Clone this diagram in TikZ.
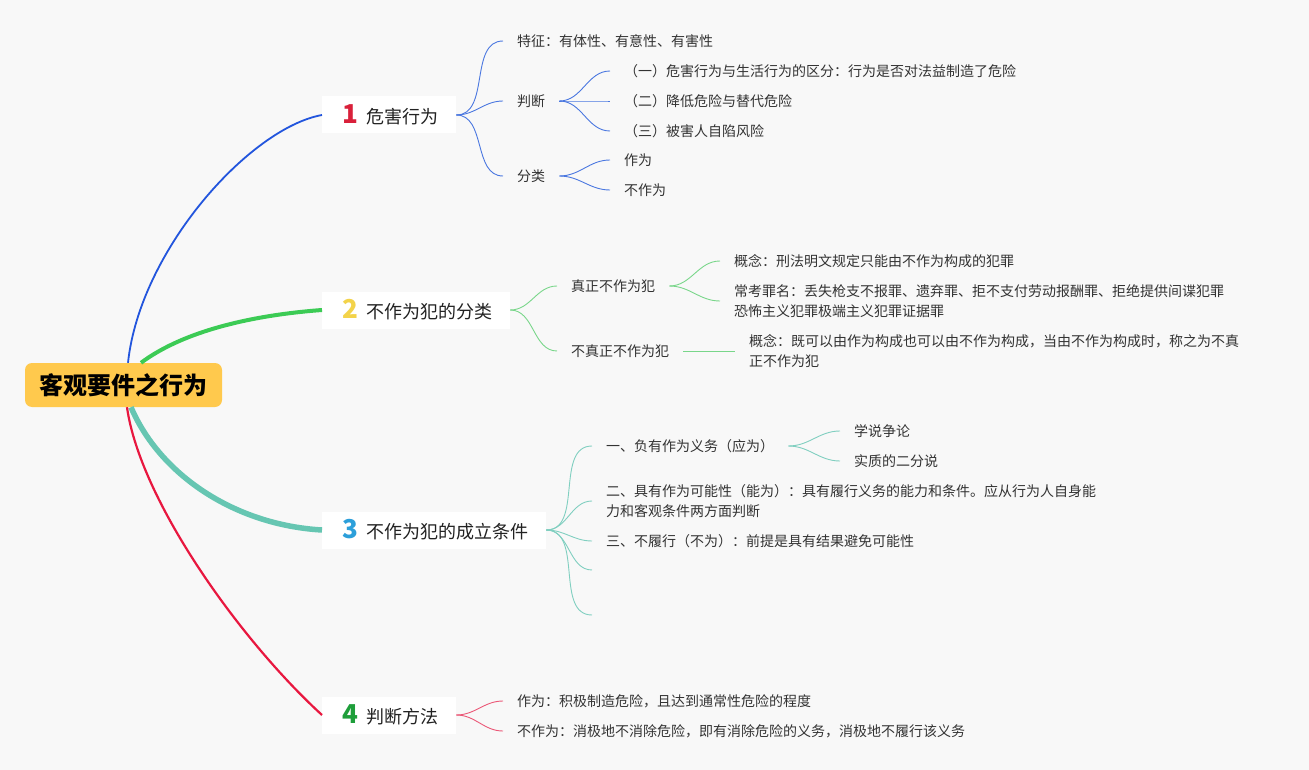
\documentclass[tikz,border=0pt]{standalone}
\usepackage{fontspec}
\setmainfont{Noto Sans CJK SC}
\newcommand\mmnumfont{\fontsize{26}{26}\selectfont\bfseries}
\definecolor{bgc}{HTML}{F8F8F8}
\definecolor{rooty}{HTML}{FFC94D}
\definecolor{cblue}{HTML}{2255DD}
\definecolor{cbluel}{HTML}{4A77E0}
\definecolor{cgreen}{HTML}{3CCB55}
\definecolor{cgreenl}{HTML}{79D68A}
\definecolor{cteal}{HTML}{66C6B2}
\definecolor{ctealll}{HTML}{80CFC0}
\definecolor{cred}{HTML}{E8173F}
\definecolor{credl}{HTML}{EB5877}
\definecolor{numa}{HTML}{D9203A}
\definecolor{numb}{HTML}{F3D34A}
\definecolor{numc}{HTML}{2C9FDA}
\definecolor{numd}{HTML}{1E9E3A}
\definecolor{tdark}{HTML}{222222}
\definecolor{tgray}{HTML}{333333}
\begin{document}
\begin{tikzpicture}[x=1pt,y=-1pt,
  rootbox/.style={fill=rooty, rounded corners=7pt, minimum width=197pt, minimum height=44pt,
    inner sep=0pt, font=\fontsize{24}{28}\selectfont\bfseries, text=black},
  branchbox/.style={fill=white, anchor=west, minimum height=37pt, inner xsep=18pt, inner ysep=0pt,
    font=\fontsize{18}{22}\selectfont, text=tdark},
  leaf/.style={anchor=west, inner xsep=14pt, inner ysep=2pt, align=left,
    font=\fontsize{14}{20}\selectfont, text=tgray},
  lka/.style={draw=cbluel, line width=0.9pt},
  lkb/.style={draw=cgreenl, line width=0.9pt},
  lkc/.style={draw=ctealll, line width=0.9pt},
  lkd/.style={draw=credl, line width=0.9pt},
  fan/.style={out=0, in=180}
]
\useasboundingbox (0,0) rectangle (1309,770);
\fill[bgc] (0,0) rectangle (1309,770);

% root and branches
\node[rootbox] (root) at (123.5,385) {客观要件之行为};
\node[branchbox] (b1) at (322,115) {\hspace*{2pt}{\mmnumfont\color{numa}1}\hspace{8pt}危害行为};
\node[branchbox] (b2) at (322,310) {\hspace*{2pt}{\mmnumfont\color{numb}2}\hspace{8pt}不作为犯的分类};
\node[branchbox] (b3) at (322,530) {\hspace*{2pt}{\mmnumfont\color{numc}3}\hspace{8pt}不作为犯的成立条件};
\node[branchbox] (b4) at (322,715) {\hspace*{2pt}{\mmnumfont\color{numd}4}\hspace{8pt}判断方法};

% main connectors
\draw[cblue, line width=1.8pt] ([xshift=4.5pt]root.north) .. controls (140,250) and (250,128) .. (b1.west);
\draw[cgreen, line width=4pt] ([xshift=17.5pt]root.north) .. controls (185,330) and (255,315) .. (b2.west);
\draw[cteal, line width=5.5pt] ([xshift=7.5pt]root.south) .. controls (160,475) and (235,525) .. (b3.west);
\draw[cred, line width=2.2pt] ([xshift=3.5pt]root.south) .. controls (140,500) and (240,640) .. (b4.west);

% branch 1
\node[leaf] (c11) at (503,41) {特征：有体性、有意性、有害性};
\node[leaf] (c12) at (503,101) {判断};
\node[leaf] (c13) at (503,176) {分类};
\node[leaf] (c121) at (610,71) {（一）危害行为与生活行为的区分：行为是否对法益制造了危险};
\node[leaf] (c122) at (610,101) {（二）降低危险与替代危险};
\node[leaf] (c123) at (610,131) {（三）被害人自陷风险};
\node[leaf] (c131) at (610,160) {作为};
\node[leaf] (c132) at (610,190) {不作为};
\draw[lka] (b1.east) to[fan] (c11.west);
\draw[lka] (b1.east) to[fan] (c12.west);
\draw[lka] (b1.east) to[fan] (c13.west);
\draw[lka] (c12.east) to[fan] (c121.west);
\draw[lka] (c12.east) to[fan] (c122.west);
\draw[lka] (c12.east) to[fan] (c123.west);
\draw[lka] (c13.east) to[fan] (c131.west);
\draw[lka] (c13.east) to[fan] (c132.west);

% branch 2
\node[leaf] (c21) at (557,286) {真正不作为犯};
\node[leaf] (c22) at (557,351) {不真正不作为犯};
\node[leaf] (c211) at (720,261) {概念：刑法明文规定只能由不作为构成的犯罪};
\node[leaf] (c212) at (720,301) {常考罪名：丢失枪支不报罪、遗弃罪、拒不支付劳动报酬罪、拒绝提供间谍犯罪\\恐怖主义犯罪极端主义犯罪证据罪};
\node[leaf] (c221) at (735,351) {概念：既可以由作为构成也可以由不作为构成，当由不作为构成时，称之为不真\\正不作为犯};
\draw[lkb] (b2.east) to[fan] (c21.west);
\draw[lkb] (b2.east) to[fan] (c22.west);
\draw[lkb] (c21.east) to[fan] (c211.west);
\draw[lkb] (c21.east) to[fan] (c212.west);
\draw[lkb] (c22.east) -- (c221.west);

% branch 3
\node[leaf] (c31) at (592,446) {一、负有作为义务（应为）};
\node[leaf] (c32) at (592,501) {二、具有作为可能性（能为）：具有履行义务的能力和条件。应从行为人自身能\\力和客观条件两方面判断};
\node[leaf] (c33) at (592,541) {三、不履行（不为）：前提是具有结果避免可能性};
\coordinate (e34) at (592,570);
\coordinate (e35) at (592,615);
\node[leaf] (c311) at (840,431) {学说争论};
\node[leaf] (c312) at (840,461) {实质的二分说};
\draw[lkc] (b3.east) to[fan] (c31.west);
\draw[lkc] (b3.east) to[fan] (c32.west);
\draw[lkc] (b3.east) to[fan] (c33.west);
\draw[lkc] (b3.east) to[fan] (e34);
\draw[lkc] (b3.east) to[fan] (e35);
\draw[lkc] (c31.east) to[fan] (c311.west);
\draw[lkc] (c31.east) to[fan] (c312.west);

% branch 4
\node[leaf] (c41) at (503,701) {作为：积极制造危险，且达到通常性危险的程度};
\node[leaf] (c42) at (503,731) {不作为：消极地不消除危险，即有消除危险的义务，消极地不履行该义务};
\draw[lkd] (b4.east) to[fan] (c41.west);
\draw[lkd] (b4.east) to[fan] (c42.west);
\end{tikzpicture}
\end{document}
